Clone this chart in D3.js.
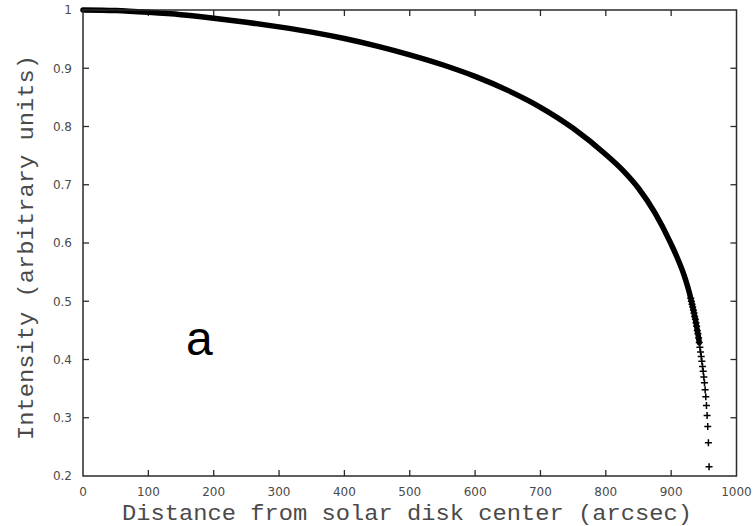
<!DOCTYPE html>
<html>
<head>
<meta charset="utf-8">
<script src="https://cdn.jsdelivr.net/npm/d3@7"></script>
<style>
  body { margin: 0; background: #fff; }
</style>
</head>
<body>
<div id="my_dataviz"></div>
<script>
// main part of the profile (distance in arcsec, intensity)
var mainDist = [0, 50, 100, 150, 200, 250, 300, 350, 400, 450, 500, 550, 600, 650,
                700, 750, 800, 825, 850, 875, 900, 910, 920, 930];
var mainInt  = [1.000, 0.999, 0.996, 0.992, 0.986, 0.979, 0.971, 0.962, 0.951, 0.938,
                0.923, 0.906, 0.886, 0.862, 0.833, 0.797, 0.752, 0.726, 0.694, 0.652,
                0.598, 0.573, 0.544, 0.505];

// the limb, where the single markers can be seen
var limbDist = [930, 931, 932, 933, 934, 935, 936, 937, 938, 939, 940, 941, 942, 943, 944,
                945, 946, 947, 948, 949, 950, 951, 952, 953, 954, 955, 956, 957, 958];
var limbInt  = [0.505, 0.500, 0.495, 0.490, 0.485, 0.480, 0.474, 0.469, 0.463, 0.457,
                0.450, 0.444, 0.437, 0.429, 0.421, 0.413, 0.405, 0.397, 0.388, 0.380,
                0.370, 0.360, 0.348, 0.336, 0.321, 0.304, 0.285, 0.257, 0.216];

var xTicks = [0, 100, 200, 300, 400, 500, 600, 700, 800, 900, 1000];
var yTicks = [0.2, 0.3, 0.4, 0.5, 0.6, 0.7, 0.8, 0.9, 1];

var W = 754, H = 526;
var margin = {top: 10, right: 17.5, bottom: 50, left: 83},
    width = W - margin.left - margin.right,
    height = H - margin.top - margin.bottom;

var svg = d3.select("#my_dataviz")
  .append("svg")
    .attr("width", W)
    .attr("height", H);

var g = svg.append("g")
    .attr("transform", "translate(" + margin.left + "," + margin.top + ")");

var x = d3.scaleLinear().domain([0, 1000]).range([0, width]);
var y = d3.scaleLinear().domain([0.2, 1]).range([height, 0]);

var tickLen = 6, frameCol = "#2a2a2a", labelCol = "#4a4a4a";

// ticks on all four sides, pointing inwards
var tk = g.append("g").attr("stroke", frameCol).attr("stroke-width", 1.3);
xTicks.slice(1, -1).forEach(function(t) {
  tk.append("line").attr("x1", x(t)).attr("x2", x(t)).attr("y1", height).attr("y2", height - tickLen);
  tk.append("line").attr("x1", x(t)).attr("x2", x(t)).attr("y1", 0).attr("y2", tickLen);
});
yTicks.slice(1, -1).forEach(function(t) {
  tk.append("line").attr("x1", 0).attr("x2", tickLen).attr("y1", y(t)).attr("y2", y(t));
  tk.append("line").attr("x1", width).attr("x2", width - tickLen).attr("y1", y(t)).attr("y2", y(t));
});

// tick labels
g.append("g").selectAll("text")
  .data(xTicks).enter().append("text")
    .attr("x", function(d) { return x(d); })
    .attr("y", height + 20)
    .attr("text-anchor", "middle")
    .attr("font-family", "DejaVu Sans, sans-serif")
    .attr("font-size", 12)
    .attr("fill", labelCol)
    .text(function(d) { return d; });

g.append("g").selectAll("text")
  .data(yTicks).enter().append("text")
    .attr("x", -11)
    .attr("y", function(d) { return y(d); })
    .attr("dy", "0.36em")
    .attr("text-anchor", "end")
    .attr("font-family", "DejaVu Sans, sans-serif")
    .attr("font-size", 12)
    .attr("fill", labelCol)
    .text(function(d) { return d; });

var mainData = mainDist.map(function(d, i) { return {r: d, v: mainInt[i]}; });
var limbData = limbDist.map(function(d, i) { return {r: d, v: limbInt[i]}; });

// the profile: thick line where the markers run together
var lineData = mainData.concat(limbData.filter(function(d) { return d.r > 930 && d.r <= 943; }));

g.append("path")
  .datum(lineData)
  .attr("fill", "none")
  .attr("stroke", "#000")
  .attr("stroke-width", 5.5)
  .attr("stroke-linecap", "round")
  .attr("d", d3.line()
    .curve(d3.curveMonotoneX)
    .x(function(d) { return x(d.r); })
    .y(function(d) { return y(d.v); }));

// '+' markers near the limb
g.append("g").selectAll("path")
  .data(limbData).enter().append("path")
    .attr("transform", function(d) { return "translate(" + x(d.r) + "," + y(d.v) + ")"; })
    .attr("d", "M-3.5,0H3.5M0,-3.5V3.5")
    .attr("stroke", "#000")
    .attr("stroke-width", 1.5);

// frame
g.append("rect")
  .attr("width", width)
  .attr("height", height)
  .attr("fill", "none")
  .attr("stroke", frameCol)
  .attr("stroke-width", 1.5);

// axis titles
svg.append("text")
  .attr("x", 122)
  .attr("y", 520)
  .attr("textLength", 570)
  .attr("lengthAdjust", "spacingAndGlyphs")
  .attr("font-family", "'Liberation Mono', 'Courier New', monospace")
  .attr("font-size", 22)
  .attr("fill", "#4a4a4a")
  .text("Distance from solar disk center (arcsec)");

svg.append("text")
  .attr("transform", "translate(33,440) rotate(-90)")
  .attr("textLength", 385)
  .attr("lengthAdjust", "spacingAndGlyphs")
  .attr("font-family", "'Liberation Mono', 'Courier New', monospace")
  .attr("font-size", 22)
  .attr("fill", "#4a4a4a")
  .text("Intensity (arbitrary units)");

// panel letter
svg.append("text")
  .attr("x", 186)
  .attr("y", 355)
  .attr("font-family", "'Liberation Sans', Arial, sans-serif")
  .attr("font-size", 48)
  .attr("fill", "#000")
  .text("a");
</script>
</body>
</html>
